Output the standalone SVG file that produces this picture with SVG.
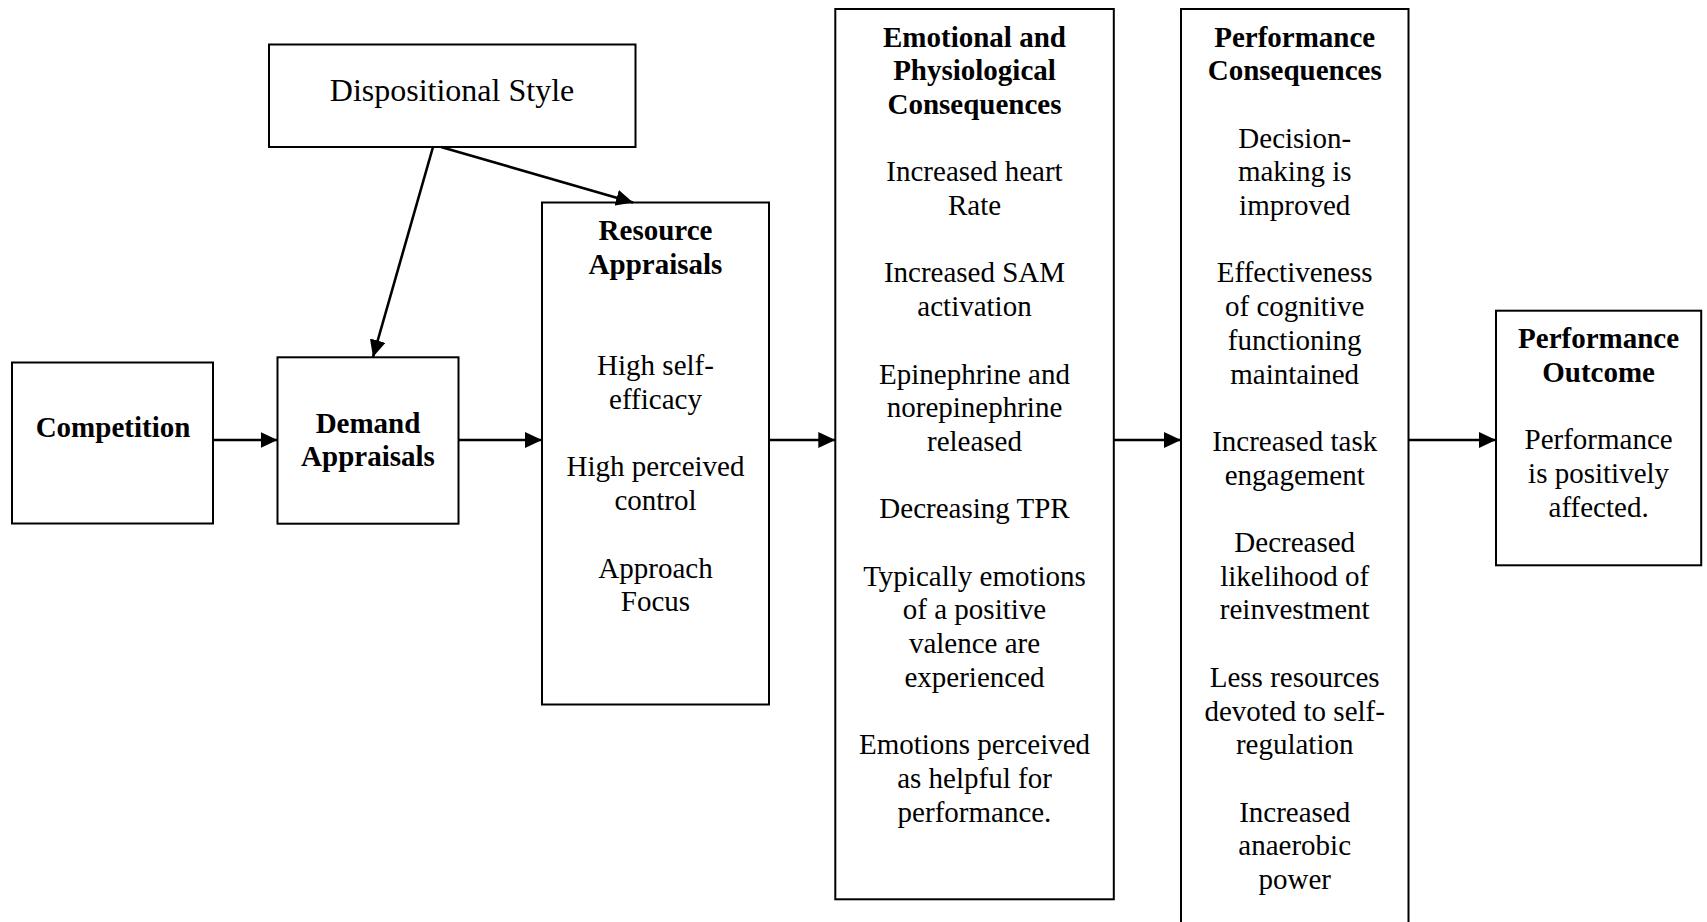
<svg xmlns="http://www.w3.org/2000/svg" width="1707" height="922" viewBox="0 0 1707 922">
<style>
.box{fill:#fff;stroke:#000;stroke-width:2}
.t{font-family:"Liberation Serif","Times New Roman",serif;font-size:29px;fill:#000;text-anchor:middle}
.b{font-weight:bold}
.c{stroke:#000;stroke-width:2.6;fill:none}
</style>
<defs>
<marker id="ah" markerUnits="userSpaceOnUse" markerWidth="18" markerHeight="16" refX="17" refY="8" orient="auto">
<path d="M0,0 L17,8 L0,16 z" fill="#000"/>
</marker>
</defs>
<rect width="1707" height="922" fill="#fff"/>
<g id="dispositional">
<rect class="box" x="269" y="44.5" width="366.5" height="102.5"/>
<text class="t" x="452" y="100.7" style="font-size:32px">Dispositional Style</text>
</g>
<g id="competition">
<rect class="box" x="12" y="362.5" width="201" height="161"/>
<text class="t b" x="113" y="437.3">Competition</text>
</g>
<g id="demand">
<rect class="box" x="277.5" y="357.3" width="181" height="166.4"/>
<text class="t b" x="368" y="432.7">Demand</text>
<text class="t b" x="368" y="466.3">Appraisals</text>
</g>
<g id="resource">
<rect class="box" x="542" y="202.5" width="227" height="502"/>
<text class="t b" x="655.5" y="240">Resource</text>
<text class="t b" x="655.5" y="273.7">Appraisals</text>
<text class="t" x="655.5" y="374.8">High self-</text>
<text class="t" x="655.5" y="408.5">efficacy</text>
<text class="t" x="655.5" y="476">High perceived</text>
<text class="t" x="655.5" y="509.7">control</text>
<text class="t" x="655.5" y="577.5">Approach</text>
<text class="t" x="655.5" y="611.2">Focus</text>
</g>
<g id="emotional">
<rect class="box" x="835.3" y="9" width="278.5" height="890.3"/>
<text class="t b" x="974.5" y="46.5">Emotional and</text>
<text class="t b" x="974.5" y="80.2">Physiological</text>
<text class="t b" x="974.5" y="113.9">Consequences</text>
<text class="t" x="974.5" y="181.3">Increased heart</text>
<text class="t" x="974.5" y="215">Rate</text>
<text class="t" x="974.5" y="282.4">Increased SAM</text>
<text class="t" x="974.5" y="316.1">activation</text>
<text class="t" x="974.5" y="383.5">Epinephrine and</text>
<text class="t" x="974.5" y="417.2">norepinephrine</text>
<text class="t" x="974.5" y="450.9">released</text>
<text class="t" x="974.5" y="518.3">Decreasing TPR</text>
<text class="t" x="974.5" y="585.7">Typically emotions</text>
<text class="t" x="974.5" y="619.4">of a positive</text>
<text class="t" x="974.5" y="653.1">valence are</text>
<text class="t" x="974.5" y="686.8">experienced</text>
<text class="t" x="974.5" y="754.2">Emotions perceived</text>
<text class="t" x="974.5" y="787.9">as helpful for</text>
<text class="t" x="974.5" y="821.6">performance.</text>
</g>
<g id="performance-consequences">
<rect class="box" x="1181" y="9" width="227.5" height="930"/>
<text class="t b" x="1294.7" y="46.5">Performance</text>
<text class="t b" x="1294.7" y="80.2">Consequences</text>
<text class="t" x="1294.7" y="147.6">Decision-</text>
<text class="t" x="1294.7" y="181.3">making is</text>
<text class="t" x="1294.7" y="215">improved</text>
<text class="t" x="1294.7" y="282.4">Effectiveness</text>
<text class="t" x="1294.7" y="316.1">of cognitive</text>
<text class="t" x="1294.7" y="349.8">functioning</text>
<text class="t" x="1294.7" y="383.5">maintained</text>
<text class="t" x="1294.7" y="450.9">Increased task</text>
<text class="t" x="1294.7" y="484.6">engagement</text>
<text class="t" x="1294.7" y="552">Decreased</text>
<text class="t" x="1294.7" y="585.7">likelihood of</text>
<text class="t" x="1294.7" y="619.4">reinvestment</text>
<text class="t" x="1294.7" y="686.8">Less resources</text>
<text class="t" x="1294.7" y="720.5">devoted to self-</text>
<text class="t" x="1294.7" y="754.2">regulation</text>
<text class="t" x="1294.7" y="821.6">Increased</text>
<text class="t" x="1294.7" y="855.3">anaerobic</text>
<text class="t" x="1294.7" y="889">power</text>
</g>
<g id="performance-outcome">
<rect class="box" x="1496" y="310.7" width="205.2" height="254.6"/>
<text class="t b" x="1598.6" y="348.3">Performance</text>
<text class="t b" x="1598.6" y="382">Outcome</text>
<text class="t" x="1598.6" y="449.4">Performance</text>
<text class="t" x="1598.6" y="483.1">is positively</text>
<text class="t" x="1598.6" y="516.8">affected.</text>
</g>
<g id="connectors">
<line class="c" x1="213" y1="440" x2="277.5" y2="440" marker-end="url(#ah)"/>
<line class="c" x1="458.5" y1="440" x2="542" y2="440" marker-end="url(#ah)"/>
<line class="c" x1="769" y1="440" x2="835.3" y2="440" marker-end="url(#ah)"/>
<line class="c" x1="1113.8" y1="440" x2="1181" y2="440" marker-end="url(#ah)"/>
<line class="c" x1="1408.5" y1="440" x2="1496" y2="440" marker-end="url(#ah)"/>
<line class="c" x1="433" y1="147" x2="373" y2="357" marker-end="url(#ah)"/>
<line class="c" x1="441" y1="147" x2="633" y2="202.5" marker-end="url(#ah)"/>
</g>
</svg>
